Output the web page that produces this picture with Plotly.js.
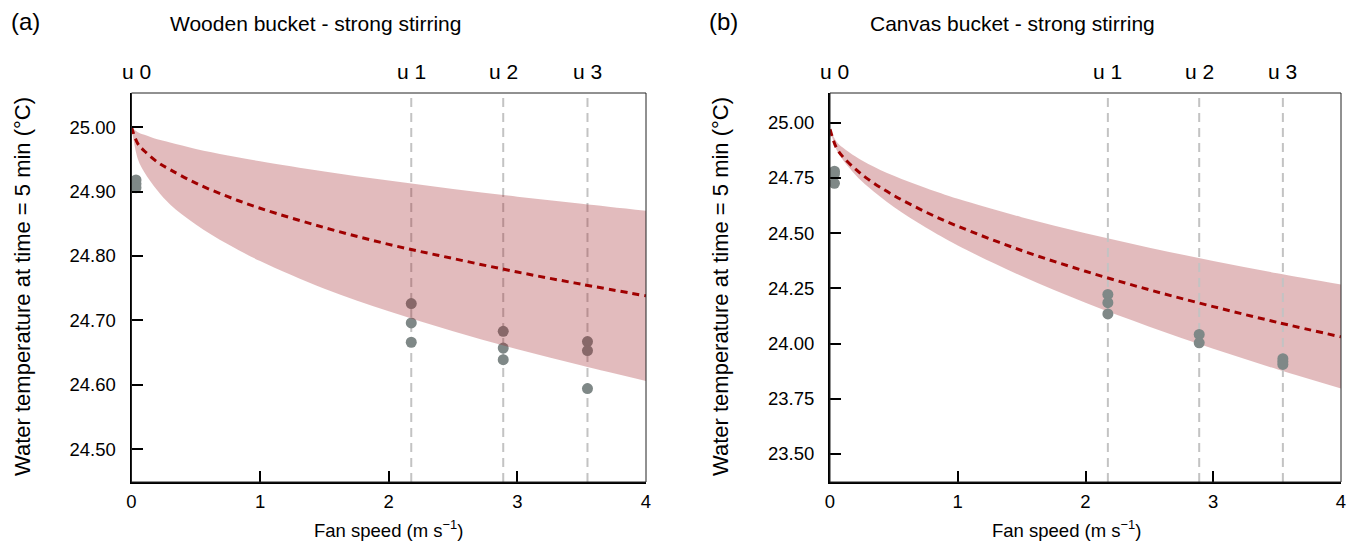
<!DOCTYPE html>
<html>
<head>
<meta charset="utf-8">
<script src="https://cdn.plot.ly/plotly-3.0.1.min.js"></script>
<style>
html,body{margin:0;padding:0;background:#fff;}
#chart{width:1348px;height:544px;}
</style>
</head>
<body>
<div id="chart"></div>
<script>
// ---- data ----
const uLabels = ['u 0', 'u 1', 'u 2', 'u 3'];
const uSpeeds = [0.035, 2.175, 2.89, 3.545];

const curveX = [0, 0.05, 0.1, 0.2, 0.3, 0.5, 0.75, 1, 1.5, 2, 2.5, 3, 3.5, 4];

// (a) Wooden bucket
const woodMid   = [25.000, 24.974, 24.963, 24.946, 24.934, 24.913, 24.892, 24.874, 24.844, 24.818, 24.796, 24.775, 24.756, 24.738];
const woodUpper = [25.000, 24.992, 24.988, 24.981, 24.976, 24.966, 24.956, 24.947, 24.931, 24.917, 24.904, 24.892, 24.881, 24.870];
const woodLower = [25.000, 24.950, 24.930, 24.902, 24.880, 24.849, 24.818, 24.792, 24.749, 24.714, 24.683, 24.655, 24.630, 24.606];
const woodObsX  = [0.035, 0.035, 0.035, 2.175, 2.175, 2.175, 2.89, 2.89, 2.89, 3.545, 3.545, 3.545];
const woodObsY  = [24.918, 24.912, 24.906, 24.726, 24.696, 24.666, 24.683, 24.657, 24.639, 24.667, 24.653, 24.594];

// (b) Canvas bucket
const canvMid   = [24.970, 24.886, 24.846, 24.789, 24.743, 24.670, 24.595, 24.531, 24.421, 24.327, 24.243, 24.167, 24.096, 24.030];
const canvUpper = [24.970, 24.915, 24.887, 24.846, 24.813, 24.759, 24.704, 24.655, 24.572, 24.499, 24.434, 24.374, 24.318, 24.267];
const canvLower = [24.970, 24.878, 24.832, 24.763, 24.708, 24.618, 24.525, 24.444, 24.305, 24.184, 24.076, 23.976, 23.883, 23.796];
const canvObsX  = [0.035, 0.035, 0.035, 2.175, 2.175, 2.175, 2.89, 2.89, 3.545, 3.545, 3.545];
const canvObsY  = [24.780, 24.768, 24.725, 24.222, 24.185, 24.134, 24.041, 24.003, 23.931, 23.918, 23.905];

const woodTicks = [24.5, 24.6, 24.7, 24.8, 24.9, 25.0];
const canvTicks = [23.5, 23.75, 24.0, 24.25, 24.5, 24.75, 25.0];
const xTicks = [0, 1, 2, 3, 4];

const panelLetters = ['(a)', '(b)'];
const panelTitles = ['Wooden bucket - strong stirring', 'Canvas bucket - strong stirring'];
const yTitle = 'Water temperature at time = 5 min (°C)';
const xTitle = 'Fan speed (m s<sup>−1</sup>)';

// ---- styling ----
const FONT = 'Liberation Sans, Arial, Helvetica, sans-serif';
const W = 1348, H = 544;
const px = v => v / W, py = v => 1 - v / H;
const yRangeA = [24.449, 25.053];
const yRangeB = [23.373, 25.134];
const bandFill = 'rgba(160,30,35,0.30)';
const midColor = '#a00000';
const dotColor = '#7f8887';
const vlineColor = '#c3c3c3';

function vlineTrace(xa, ya, range) {
  const xs = [], ys = [];
  uSpeeds.slice(1).forEach(u => { xs.push(u, u, null); ys.push(range[0], range[1], null); });
  return {x: xs, y: ys, xaxis: xa, yaxis: ya, mode: 'lines', hoverinfo: 'skip',
          line: {color: vlineColor, width: 2, dash: '9px,6px'}, showlegend: false};
}
function bandTraces(xa, ya, lo, hi) {
  return [
    {x: curveX, y: lo, xaxis: xa, yaxis: ya, mode: 'lines', line: {width: 0, shape: 'spline'}, showlegend: false, hoverinfo: 'skip'},
    {x: curveX, y: hi, xaxis: xa, yaxis: ya, mode: 'lines', line: {width: 0, shape: 'spline'}, fill: 'tonexty', fillcolor: bandFill, showlegend: false, hoverinfo: 'skip'}
  ];
}
function midTrace(xa, ya, mid) {
  return {x: curveX, y: mid, xaxis: xa, yaxis: ya, mode: 'lines', showlegend: false,
          line: {color: midColor, width: 3, dash: '7px,5px', shape: 'spline'}};
}
function dotsTrace(xa, ya, xs, ys) {
  return {x: xs, y: ys, xaxis: xa, yaxis: ya, mode: 'markers', showlegend: false,
          marker: {color: dotColor, size: 11, line: {width: 0}}};
}

const traces = [
  vlineTrace('x', 'y', yRangeA),
  dotsTrace('x', 'y', woodObsX, woodObsY),
  ...bandTraces('x', 'y', woodLower, woodUpper),
  midTrace('x', 'y', woodMid),

  ...bandTraces('x2', 'y2', canvLower, canvUpper),
  vlineTrace('x2', 'y2', yRangeB),
  dotsTrace('x2', 'y2', canvObsX, canvObsY),
  midTrace('x2', 'y2', canvMid)
];

const xCommon = {
  range: [0, 4], tickvals: xTicks, ticktext: xTicks.map(String),
  ticks: 'inside', ticklen: 11, tickwidth: 2, tickcolor: '#000',
  showline: true, linecolor: '#000', linewidth: 2, showgrid: false, zeroline: false,
  tickfont: {family: FONT, size: 18.5, color: '#000'}, ticklabelstandoff: 2, fixedrange: true
};
const yCommon = {
  ticks: 'inside', ticklen: 11, tickwidth: 2, tickcolor: '#000',
  showline: true, linecolor: '#000', linewidth: 2, showgrid: false, zeroline: false,
  tickfont: {family: FONT, size: 18.5, color: '#000'}, tickformat: '.2f', ticklabelstandoff: 10, fixedrange: true
};

const domY = [py(482), py(93)];
const letterX = [9, 707], titleX = [315, 1012], yTitleX = [22, 720], xTitleX = [388, 1066];
const ann = [];
[0, 1].forEach(i => {
  ann.push({text: panelLetters[i], xref: 'paper', yref: 'paper', x: px(letterX[i]), y: py(22), xanchor: 'left', yanchor: 'middle', showarrow: false, font: {size: 24}});
  ann.push({text: panelTitles[i], xref: 'paper', yref: 'paper', x: px(titleX[i]), y: py(24), xanchor: 'center', yanchor: 'middle', showarrow: false, font: {size: 21}});
  ann.push({text: yTitle, xref: 'paper', yref: 'paper', x: px(yTitleX[i]), y: py(287), textangle: -90, xanchor: 'center', yanchor: 'middle', showarrow: false, font: {size: 22}});
  ann.push({text: xTitle, xref: 'paper', yref: 'paper', x: px(xTitleX[i]), y: py(529), xanchor: 'center', yanchor: 'middle', showarrow: false, font: {size: 18.5}});
  uLabels.forEach((t, k) => ann.push({text: t, xref: i ? 'x2' : 'x', yref: 'paper', x: uSpeeds[k], y: py(72), xanchor: 'center', yanchor: 'middle', showarrow: false, font: {size: 21}}));
});

const layout = {
  width: W, height: H,
  margin: {l: 0, r: 0, t: 0, b: 0},
  paper_bgcolor: '#fff', plot_bgcolor: '#fff',
  showlegend: false,
  font: {family: FONT, size: 17, color: '#000'},
  xaxis: Object.assign({}, xCommon, {domain: [px(131.5), px(646)], anchor: 'y'}),
  yaxis: Object.assign({}, yCommon, {domain: domY, range: yRangeA, tickvals: woodTicks, anchor: 'x'}),
  xaxis2: Object.assign({}, xCommon, {domain: [px(830), px(1341)], anchor: 'y2'}),
  yaxis2: Object.assign({}, yCommon, {domain: domY, range: yRangeB, tickvals: canvTicks, anchor: 'x2'}),
  shapes: [
    {type: 'rect', xref: 'x domain', yref: 'y domain', x0: 0, x1: 1, y0: 0, y1: 1, line: {color: '#222', width: 1}, layer: 'above'},
    {type: 'rect', xref: 'x2 domain', yref: 'y2 domain', x0: 0, x1: 1, y0: 0, y1: 1, line: {color: '#222', width: 1}, layer: 'above'}
  ],
  annotations: ann
};

Plotly.newPlot('chart', traces, layout, {staticPlot: true, displayModeBar: false});
</script>
</body>
</html>
